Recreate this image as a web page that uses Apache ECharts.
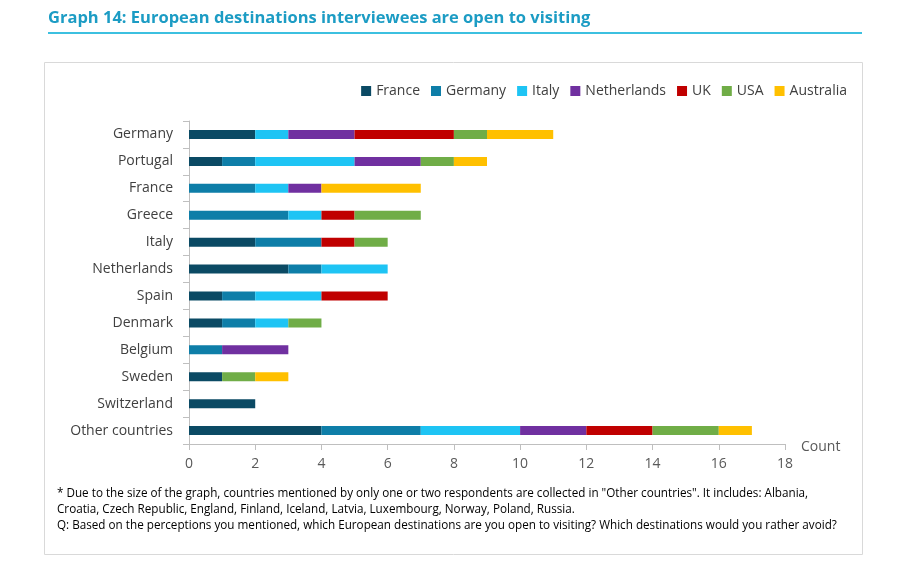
<!DOCTYPE html>
<html><head><meta charset="utf-8">
<script src="https://cdn.jsdelivr.net/npm/echarts@6/dist/echarts.min.js"></script>
<style>html,body{margin:0;padding:0;background:#fff}#c{width:914px;height:571px}</style>
</head><body><div id="c"></div>
<script>
const categories = ["Germany","Portugal","France","Greece","Italy","Netherlands","Spain","Denmark","Belgium","Sweden","Switzerland","Other countries"];
const seriesNames = ["France","Germany","Italy","Netherlands","UK","USA","Australia"];
const france      = [2,1,0,0,2,3,1,1,0,1,2,4];
const germany     = [0,1,2,3,2,1,1,1,1,0,0,3];
const italy       = [1,3,1,1,0,2,2,1,0,0,0,3];
const netherlands = [2,2,1,0,0,0,0,0,2,0,0,2];
const uk          = [3,0,0,1,1,0,2,0,0,0,0,2];
const usa         = [1,1,0,2,1,0,0,1,0,1,0,2];
const australia   = [2,1,3,0,0,0,0,0,0,1,0,1];
const xTicks = [0,2,4,6,8,10,12,14,16,18];
const colors = ["#0b4a64","#0e7ea8","#1ec4f4","#7030a0","#c00000","#70ad47","#ffc000"];
const values = [france,germany,italy,netherlands,uk,usa,australia];
const FONT = "Open Sans";

const chart = echarts.init(document.getElementById('c'));
chart.setOption({
  animation:false,
  textStyle:{fontFamily:FONT},
  legend:{
    top:79, right:62, itemWidth:10, itemHeight:10, itemGap:11,
    icon:'rect',
    textStyle:{fontSize:14,color:'#404040',fontFamily:FONT},
    data:seriesNames
  },
  grid:{left:189,right:129,top:121,bottom:127},
  xAxis:{
    type:'value', min:0, max:18, interval:2,
    name:'Count', nameLocation:'end', nameGap:16,
    nameTextStyle:{fontSize:14,color:'#595959',verticalAlign:'top',padding:[-4,0,0,0]},
    axisLine:{show:true,lineStyle:{color:'#bfbfbf'}},
    axisTick:{show:true,length:6,lineStyle:{color:'#bfbfbf'}},
    axisLabel:{fontSize:14,color:'#595959',margin:13,
      formatter:v=>xTicks.includes(v)?String(v):''},
    splitLine:{show:false}
  },
  yAxis:{
    type:'category', data:categories, inverse:true,
    axisLine:{show:true,lineStyle:{color:'#bfbfbf'}},
    axisTick:{show:true,length:6,lineStyle:{color:'#bfbfbf'}},
    axisLabel:{fontSize:14,color:'#404040',margin:16}
  },
  series:seriesNames.map((n,i)=>({
    name:n, type:'bar', stack:'total', barWidth:9,
    itemStyle:{color:colors[i]},
    data:values[i]
  })),
  graphic:[
    {type:'text',left:48,top:10,style:{text:'Graph 14: European destinations interviewees are open to visiting',
      font:'bold 16.5px "Open Sans"',fill:'#1c9cc4'}},
    {type:'rect',shape:{x:48,y:32,width:814,height:2},style:{fill:'#3cc0e0'}},
    {type:'rect',shape:{x:44.5,y:62.5,width:818,height:492},style:{fill:'none',stroke:'#d9d9d9',lineWidth:1},z:-1},
    {type:'text',left:57,top:486,style:{text:'* Due to the size of the graph, countries mentioned by only one or two respondents are collected in "Other countries". It includes: Albania,\nCroatia, Czech Republic, England, Finland, Iceland, Latvia, Luxembourg, Norway, Poland, Russia.\nQ: Based on the perceptions you mentioned, which European destinations are you open to visiting? Which destinations would you rather avoid?',
      font:'11.7px "Open Sans"',fill:'#000',lineHeight:16}}
  ]
});
</script></body></html>
